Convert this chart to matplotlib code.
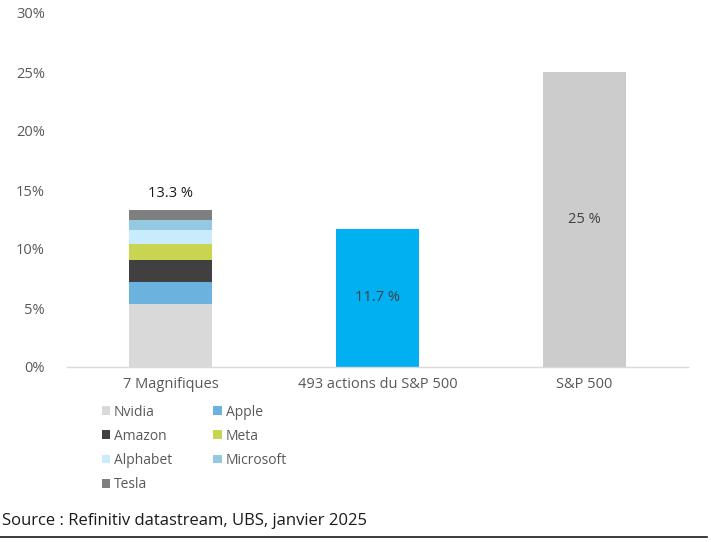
import matplotlib
matplotlib.use("Agg")
import matplotlib.pyplot as plt
from matplotlib.patches import Patch
import numpy as np

plt.rcParams['font.family'] = ['Open Sans', 'DejaVu Sans']

categories = ["7 Magnifiques", "493 actions du S&P 500", "S&P 500"]
mag7_names = ["Nvidia", "Apple", "Amazon", "Meta", "Alphabet", "Microsoft", "Tesla"]
mag7_values = [5.3, 1.9, 1.9, 1.3, 1.2, 0.9, 0.8]
mag7_colors = ["#d9d9d9", "#6cb2de", "#404040", "#c9d451", "#c8ecfb", "#94c9e2", "#7f7f7f"]
other_values = [11.7, 25.0]
other_colors = ["#00b0f0", "#cccccc"]
bar_labels = ["13.3 %", "11.7 %", "25 %"]
yticks = [0, 5, 10, 15, 20, 25, 30]
ytick_labels = ["0%", "5%", "10%", "15%", "20%", "25%", "30%"]

fig = plt.figure(figsize=(7.11, 5.42), dpi=100)
ax = fig.add_axes([67/711, 1-367/542, (688-67)/711, (367-13)/542])

x = np.arange(len(categories))
width = 0.4
bottom = 0.0
for name, val, col in zip(mag7_names, mag7_values, mag7_colors):
    ax.bar(x[0], val, width, bottom=bottom, color=col, label=name)
    bottom += val
ax.bar(x[1], other_values[0], width, color=other_colors[0])
ax.bar(x[2], other_values[1], width, color=other_colors[1])

txtc = "#404040"
ax.text(x[0], bottom + 0.75, bar_labels[0], ha="center", va="bottom", fontsize=10.5, color="#1a1a1a")
ax.text(x[1], other_values[0] / 2, bar_labels[1], ha="center", va="center", fontsize=10.5, color=txtc)
ax.text(x[2], other_values[1] / 2, bar_labels[2], ha="center", va="center", fontsize=10.5, color=txtc)

ax.set_xlim(-0.5, 2.5)
ax.set_ylim(0, 30)
ax.set_yticks(yticks)
ax.set_yticklabels(ytick_labels)
ax.set_xticks(x)
ax.set_xticklabels(categories)
ax.tick_params(axis="both", length=0, labelsize=10.5, colors="#595959")
ax.tick_params(axis="y", pad=16)
ax.tick_params(axis="x", pad=7)
for s in ["top", "right", "left"]:
    ax.spines[s].set_visible(False)
ax.spines["bottom"].set_color("#d9d9d9")
ax.spines["bottom"].set_linewidth(1.0)

# legend laid out row-wise (matplotlib fills column-wise)
order = [0, 2, 4, 6, 1, 3, 5]
handles = [Patch(facecolor=mag7_colors[i], edgecolor="none") for i in order]
labels = [mag7_names[i] for i in order]
leg = fig.legend(handles, labels, ncol=2, loc="upper left",
                 bbox_to_anchor=(96/711, 1-399/542), frameon=False,
                 fontsize=10, labelcolor="#595959",
                 handlelength=0.6, handleheight=0.6, handletextpad=0.3,
                 columnspacing=2.95, labelspacing=0.66, borderaxespad=0)

fig.text(2/711, 1-521/542, "Source : Refinitiv datastream, UBS, janvier 2025",
         ha="left", va="center", fontsize=12, color="#1a1a1a")
fig.add_artist(plt.Line2D([0, 707/711], [1-537/542, 1-537/542], color="#1a1a1a", linewidth=1.2))

fig.savefig("out.png", dpi=100)
